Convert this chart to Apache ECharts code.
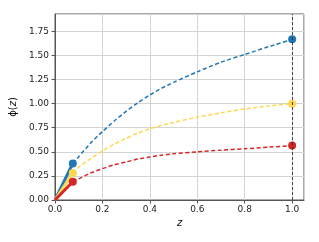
<!DOCTYPE html>
<html><head><meta charset="utf-8">
<script src="https://cdn.jsdelivr.net/npm/echarts@6/dist/echarts.min.js"></script>
<style>html,body{margin:0;padding:0;background:#fff}#c{width:319px;height:242px}</style>
</head><body><div id="c"></div>
<script>
const zValues = [0.075,0.1,0.15,0.2,0.25,0.3,0.35,0.4,0.45,0.5,0.6,0.7,0.8,0.9,1.0];
const phiBlue   = [0.38,0.45,0.59,0.71,0.82,0.92,1.01,1.09,1.16,1.22,1.33,1.43,1.51,1.59,1.667];
const phiYellow = [0.28,0.34,0.43,0.51,0.58,0.64,0.695,0.74,0.775,0.805,0.86,0.905,0.945,0.975,1.0];
const phiRed    = [0.19,0.22,0.28,0.325,0.365,0.395,0.425,0.447,0.465,0.48,0.50,0.517,0.532,0.548,0.565];
const xTicks = [0.0,0.2,0.4,0.6,0.8,1.0];
const yTicks = [0.00,0.25,0.50,0.75,1.00,1.25,1.50,1.75];
const zMarker = 1.0;

const colors = {blue:'#1f77b4', yellow:'#fdd84e', red:'#d62728'};
const groups = [
  {vals: phiBlue, color: colors.blue},
  {vals: phiYellow, color: colors.yellow},
  {vals: phiRed, color: colors.red}
];
const series = [];
groups.forEach(g => {
  series.push({type:'line', data:[[0,0],[zValues[0], g.vals[0]]], symbol:'none',
    lineStyle:{color:g.color, width:3}, z:3, silent:true});
  series.push({type:'line', data: zValues.map((z,i)=>[z,g.vals[i]]), symbol:'none', smooth:0.2,
    lineStyle:{color:g.color, width:1.5, type:[4,2.5]}, z:3, silent:true});
  series.push({type:'scatter', data:[[zValues[0], g.vals[0]],[zValues[zValues.length-1], g.vals[g.vals.length-1]]],
    symbol:'circle', symbolSize:8, itemStyle:{color:g.color, opacity:1}, z:4, silent:true});
});
series.push({type:'line', data:[], markLine:{silent:true, symbol:'none', label:{show:false},
  lineStyle:{color:'#222', width:0.8, type:[3,2]}, data:[{xAxis:zMarker}]}});

const chart = echarts.init(document.getElementById('c'), null, {renderer:'canvas'});
const font = 'DejaVu Sans';
chart.setOption({
  animation:false,
  grid:{left:55, right:15, top:14, bottom:42, show:true, borderColor:'#555', borderWidth:1},
  xAxis:{type:'value', min:0, max:1.05, interval:0.2,
    name:'z', nameLocation:'middle', nameGap:18,
    nameTextStyle:{fontFamily:font, fontSize:10, fontStyle:'italic', color:'#111'},
    axisLine:{show:true, lineStyle:{color:'#555'}},
    axisTick:{show:true, length:3.5, lineStyle:{color:'#555'}},
    axisLabel:{fontFamily:font, fontSize:9, color:'#222', margin:5, showMaxLabel:false,
      formatter: v => xTicks.some(t=>Math.abs(t-v)<1e-9) ? v.toFixed(1) : ''},
    splitLine:{show:true, lineStyle:{color:'#d4d4d4', width:1}}},
  yAxis:{type:'value', min:0, max:1.93, interval:0.25,
    name:'{a|ϕ(}{b|z}{a|)}', nameLocation:'middle', nameGap:32, nameRotate:90,
    nameTextStyle:{rich:{a:{fontFamily:font, fontSize:10, color:'#111'}, b:{fontFamily:font, fontSize:10, fontStyle:'italic', color:'#111'}}},
    axisLine:{show:true, lineStyle:{color:'#555'}},
    axisTick:{show:true, length:3.5, lineStyle:{color:'#555'}},
    axisLabel:{fontFamily:font, fontSize:9, color:'#222', margin:6, showMaxLabel:false,
      formatter: v => yTicks.some(t=>Math.abs(t-v)<1e-9) ? v.toFixed(2) : ''},
    splitLine:{show:true, lineStyle:{color:'#d4d4d4', width:1}}},
  series: series
});
</script></body></html>
